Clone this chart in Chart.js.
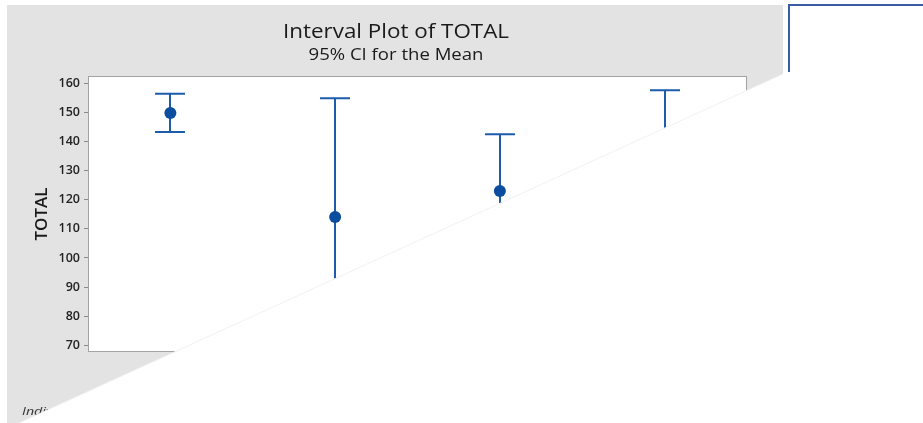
<!DOCTYPE html>
<html>
<head>
<meta charset="utf-8">
<script src="https://cdn.jsdelivr.net/npm/chart.js@4.4.0/dist/chart.umd.min.js"></script>
<style>
  html, body { margin: 0; padding: 0; background: #fff; }
  #wrap { width: 923px; height: 423px; }
</style>
</head>
<body>
<div id="wrap"><canvas id="c" width="923" height="423"></canvas></div>
<script>
// Interval plot data: mean with 95% confidence interval per group
const categories  = ['1', '2', '3', '4'];
const meanValues  = [149.8, 114.1, 123.0, 131.0];
const upperValues = [156.4, 154.9, 142.5, 157.6];
const lowerValues = [143.3, 73.3, 103.5, 104.4];
const yTickValues = [70, 80, 90, 100, 110, 120, 130, 140, 150, 160];

const FONT = '"Open Sans", "Noto Sans", sans-serif';
const BLUE = '#1c5cab';
const DOT = '#0b4d9e';

// Draw text squeezed/stretched horizontally around an anchor point
function wideText(ctx, text, x, y, sx, align) {
  ctx.save();
  ctx.translate(x, y);
  ctx.scale(sx, 1);
  ctx.textAlign = align;
  ctx.fillText(text, 0, 0);
  ctx.restore();
}

// Gray panel behind the plot and white plotting region
const panelPlugin = {
  id: 'panel',
  beforeDraw(chart) {
    const { ctx, chartArea: a } = chart;
    ctx.save();
    ctx.fillStyle = '#ffffff';
    ctx.fillRect(0, 0, chart.width, chart.height);
    ctx.fillStyle = '#e3e3e3';
    ctx.fillRect(7, 5, 776, chart.height - 5);
    ctx.fillStyle = '#ffffff';
    ctx.fillRect(a.left, a.top, a.right - a.left, a.bottom - a.top);
    ctx.restore();
  }
};

// Confidence interval whiskers with end caps
const intervalPlugin = {
  id: 'intervals',
  beforeDatasetsDraw(chart) {
    const { ctx } = chart;
    const xs = chart.scales.x, ys = chart.scales.y;
    const cap = 15;
    ctx.save();
    ctx.strokeStyle = BLUE;
    ctx.lineWidth = 2;
    categories.forEach((c, i) => {
      const px = Math.round(xs.getPixelForValue(i));
      const pTop = ys.getPixelForValue(upperValues[i]);
      const pBot = ys.getPixelForValue(lowerValues[i]);
      ctx.beginPath();
      ctx.moveTo(px, pTop);
      ctx.lineTo(px, pBot);
      ctx.moveTo(px - cap, pTop);
      ctx.lineTo(px + cap, pTop);
      ctx.moveTo(px - cap, pBot);
      ctx.lineTo(px + cap, pBot);
      ctx.stroke();
    });
    ctx.restore();
  }
};

// Frame, footnote, cut-away sheet, and titles
const framePlugin = {
  id: 'frame',
  afterDraw(chart) {
    const { ctx, chartArea: a } = chart;
    const W = chart.width, H = chart.height;
    ctx.save();
    // plot frame
    ctx.strokeStyle = '#a3a3a3';
    ctx.lineWidth = 1;
    ctx.strokeRect(a.left + 0.5, a.top + 0.5, a.right - a.left - 1, a.bottom - a.top - 1);

    // footnote
    ctx.fillStyle = '#333333';
    ctx.font = 'italic 11px ' + FONT;
    ctx.textBaseline = 'alphabetic';
    wideText(ctx, 'Individual standard deviations are used to calculate the intervals.', 22, 415, 1.3, 'left');

    // folded white sheet lying across the lower right
    ctx.fillStyle = '#ffffff';
    ctx.beginPath();
    ctx.moveTo(783, 74);
    ctx.lineTo(783, 0);
    ctx.lineTo(W, 0);
    ctx.lineTo(W, H);
    ctx.lineTo(19, H);
    ctx.closePath();
    ctx.fill();
    ctx.strokeStyle = '#f1f1f1';
    ctx.lineWidth = 1;
    ctx.beginPath();
    ctx.moveTo(783, 74);
    ctx.lineTo(19, H);
    ctx.stroke();

    // blue outline at the upper right
    ctx.strokeStyle = '#3b5ca3';
    ctx.lineWidth = 2;
    ctx.beginPath();
    ctx.moveTo(789, 72);
    ctx.lineTo(789, 5);
    ctx.lineTo(W, 5);
    ctx.stroke();

    // titles
    ctx.fillStyle = '#1a1a1a';
    ctx.textBaseline = 'middle';
    ctx.font = '20px ' + FONT;
    wideText(ctx, 'Interval Plot of TOTAL', 396, 32, 1.12, 'center');
    ctx.font = '16px ' + FONT;
    wideText(ctx, '95% CI for the Mean', 396, 55, 1.16, 'center');
    ctx.restore();
  }
};

new Chart(document.getElementById('c'), {
  type: 'line',
  data: {
    labels: categories,
    datasets: [{
      label: 'Mean',
      data: meanValues,
      showLine: false,
      pointRadius: 6,
      pointHoverRadius: 6,
      pointBackgroundColor: DOT,
      pointBorderColor: DOT,
      pointBorderWidth: 0
    }]
  },
  options: {
    responsive: false,
    animation: false,
    devicePixelRatio: 1,
    layout: { padding: { left: 0, right: 176, top: 76, bottom: 0 } },
    plugins: { legend: { display: false }, tooltip: { enabled: false } },
    scales: {
      x: {
        type: 'category',
        offset: true,
        grid: { display: false },
        border: { display: false },
        ticks: { color: '#222', font: { family: FONT, size: 12, weight: '600' } },
        afterFit(s) { s.height = 71; }
      },
      y: {
        min: 67.7,
        max: 162.5,
        afterBuildTicks(s) { s.ticks = yTickValues.map(v => ({ value: v })); },
        grid: { drawOnChartArea: false, drawTicks: true, tickLength: 4, color: '#8a8a8a' },
        border: { display: false },
        ticks: { padding: 4, color: '#222', font: { family: FONT, size: 12.5, weight: '600' } },
        title: {
          display: true,
          text: 'TOTAL',
          color: '#1a1a1a',
          font: { family: FONT, size: 17, weight: '600' },
          padding: { top: 32, bottom: 0 }
        },
        afterFit(s) { s.width = 88; }
      }
    }
  },
  plugins: [panelPlugin, intervalPlugin, framePlugin]
});
</script>
</body>
</html>
